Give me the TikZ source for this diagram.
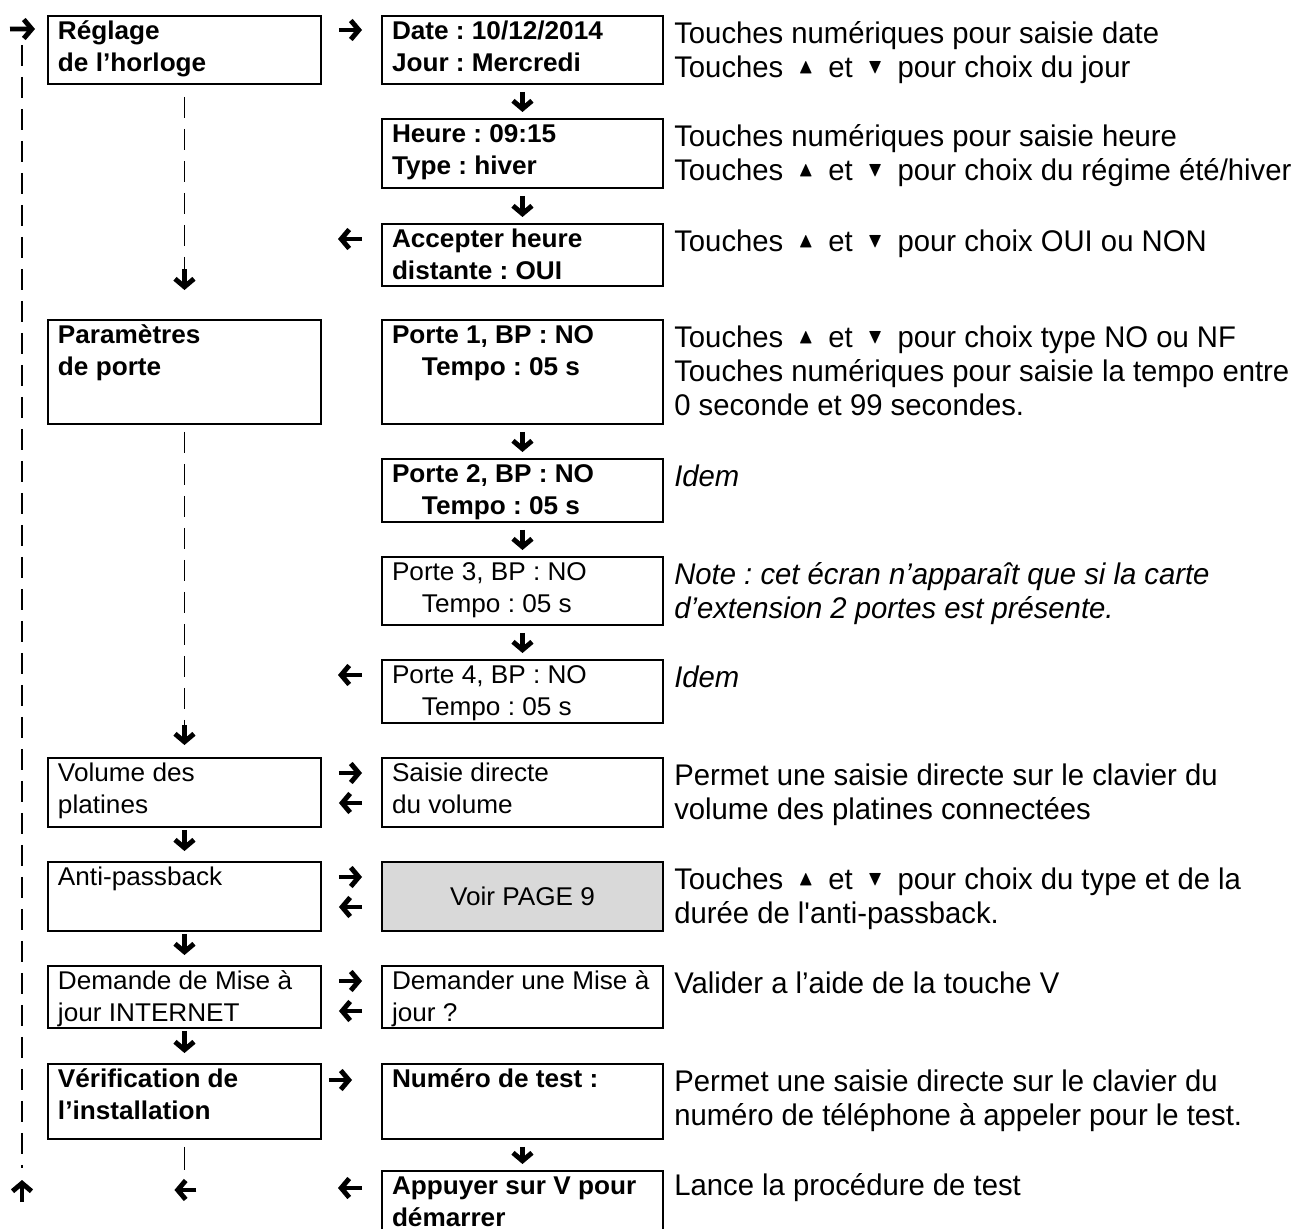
\documentclass[tikz,border=0pt]{standalone}
\usepackage{amsmath,amssymb}
\usepackage{fontspec}
\setmainfont{Liberation Sans}
\newfontfamily\boxfont{Liberation Sans}[FakeStretch=1.02]
\newfontfamily\notefont{Liberation Sans}[FakeStretch=0.98]
\usetikzlibrary{arrows.meta}
% cases a texte cale en haut
\newcommand{\gcase}[2]{\parbox[t][#1][t]{5.06cm}{\strut#2}}
\newcommand{\mcase}[2]{\parbox[t][#1][t]{5.22cm}{\strut#2}}
\newcommand{\flhaut}{\raisebox{0.12em}{$\scriptstyle\blacktriangle$}}
\newcommand{\flbas}{\raisebox{0.12em}{$\scriptstyle\blacktriangledown$}}
\newcommand{\touches}{Touches\enspace\flhaut\enspace et\enspace\flbas\enspace pour}

\begin{document}
\frenchspacing
\begin{tikzpicture}[x=0.02cm, y=-0.02cm,
  boite/.style={draw, line width=0.04cm, anchor=north west, inner xsep=0.2cm, inner ysep=0.03cm,
    font=\boxfont\fontsize{14.6pt}{18.2pt}\selectfont},
  note/.style={anchor=north west, inner sep=0pt, align=left,
    font=\notefont\fontsize{17pt}{19.35pt}\selectfont},
  fleche/.style={line width=2.8pt, -{Straight Barb[length=0.16cm,width=0.38cm]}},
  pointille/.style={line width=1pt, dash pattern=on 0.42cm off 0.22cm}]
\useasboundingbox (0,0) rectangle (1297,1229);
% Colonne de gauche
\node[boite] (reglage) at (47,15) {\gcase{1.30cm}{\bfseries Réglage\\de l’horloge}};
\node[boite] (param) at (47,319) {\gcase{2.02cm}{\bfseries Paramètres\\de porte}};
\node[boite] (volume) at (47,757) {\gcase{1.32cm}{Volume des\\platines}};
\node[boite] (anti) at (47,861) {\gcase{1.32cm}{Anti-passback}};
\node[boite] (demande) at (47,965) {\gcase{1.18cm}{Demande de Mise à\\jour INTERNET}};
\node[boite] (verif) at (47,1063) {\gcase{1.44cm}{\bfseries Vérification de\\l’installation}};
% Colonne du milieu
\node[boite] (date) at (381,15) {\mcase{1.30cm}{\bfseries Date : 10/12/2014\\Jour : Mercredi}};
\node[boite] (heure) at (381,118) {\mcase{1.32cm}{\bfseries Heure : 09:15\\Type : hiver}};
\node[boite] (accepter) at (381,223) {\mcase{1.18cm}{\bfseries Accepter heure\\distante : OUI}};
\node[boite] (porte1) at (381,319) {\mcase{2.02cm}{\bfseries Porte 1, BP : NO\\\hspace*{0.6cm}Tempo : 05 s}};
\node[boite] (porte2) at (381,458) {\mcase{1.20cm}{\bfseries Porte 2, BP : NO\\\hspace*{0.6cm}Tempo : 05 s}};
\node[boite] (porte3) at (381,556) {\mcase{1.30cm}{Porte 3, BP : NO\\\hspace*{0.6cm}Tempo : 05 s}};
\node[boite] (porte4) at (381,659) {\mcase{1.20cm}{Porte 4, BP : NO\\\hspace*{0.6cm}Tempo : 05 s}};
\node[boite] (saisie) at (381,757) {\mcase{1.32cm}{Saisie directe\\du volume}};
\node[boite, fill=gray!30, minimum width=5.62cm, minimum height=1.38cm] (voir) at (381,861) {Voir PAGE 9};
\node[boite] (demander) at (381,965) {\mcase{1.18cm}{Demander une Mise à\\jour ?}};
\node[boite] (numero) at (381,1063) {\mcase{1.44cm}{\bfseries Numéro de test :}};
\node[boite] (appuyer) at (381,1170) {\mcase{1.40cm}{\bfseries Appuyer sur V pour\\démarrer}};
% Commentaires a droite
\node[note] (ndate) at ([xshift=0.2cm,yshift=-0.08cm]date.north east) {\strut Touches numériques pour saisie date\\\touches{} choix du jour};
\node[note] (nheure) at ([xshift=0.2cm,yshift=-0.08cm]heure.north east) {\strut Touches numériques pour saisie heure\\\touches{} choix du régime été/hiver};
\node[note] (naccepter) at ([xshift=0.2cm,yshift=-0.08cm]accepter.north east) {\strut\touches{} choix OUI ou NON};
\node[note] (nporte1) at ([xshift=0.2cm,yshift=-0.08cm]porte1.north east) {\strut\touches{} choix type NO ou NF\\Touches numériques pour saisie la tempo entre\\0 seconde et 99 secondes.};
\node[note] (nporte2) at ([xshift=0.2cm,yshift=-0.08cm]porte2.north east) {\strut\textit{Idem}};
\node[note] (nporte3) at ([xshift=0.2cm,yshift=-0.08cm]porte3.north east) {\strut\textit{Note : cet écran n’apparaît que si la carte}\\\textit{d’extension 2 portes est présente.}};
\node[note] (nporte4) at ([xshift=0.2cm,yshift=-0.08cm]porte4.north east) {\strut\textit{Idem}};
\node[note] (nsaisie) at ([xshift=0.2cm,yshift=-0.08cm]saisie.north east) {\strut Permet une saisie directe sur le clavier du\\volume des platines connectées};
\node[note] (nvoir) at ([xshift=0.2cm,yshift=-0.08cm]voir.north east) {\strut\touches{} choix du type et de la\\durée de l\textquotesingle anti-passback.};
\node[note] (ndemander) at ([xshift=0.2cm,yshift=-0.08cm]demander.north east) {\strut Valider a l’aide de la touche V};
\node[note] (nnumero) at ([xshift=0.2cm,yshift=-0.08cm]numero.north east) {\strut Permet une saisie directe sur le clavier du\\numéro de téléphone à appeler pour le test.};
\node[note] (nappuyer) at ([xshift=0.2cm,yshift=-0.02cm]appuyer.north east) {\strut Lance la procédure de test};
% Fleches verticales
\foreach \a/\b in {date/heure, heure/accepter, porte1/porte2, porte2/porte3, porte3/porte4, numero/appuyer}
    \draw[fleche] ([yshift=-0.14cm]\a.south) -- ([yshift=0.12cm]\b.north);
\foreach \a/\b in {volume/anti, anti/demande, demande/verif}
    \draw[fleche] ([yshift=-0.04cm]\a.south) -- ([yshift=0.2cm]\b.north);
% Fleches horizontales
\draw[fleche] ([xshift=0.34cm,yshift=-0.3cm]reglage.north east) -- ([xshift=-0.38cm,yshift=-0.3cm]date.north west);
\foreach \g/\m in {volume/saisie, anti/voir, demande/demander} {
    \draw[fleche] ([xshift=0.34cm,yshift=-0.32cm]\g.north east) -- ([xshift=-0.38cm,yshift=-0.32cm]\m.north west);
    \draw[fleche] ([xshift=-0.38cm,yshift=-0.92cm]\m.north west) -- ([xshift=0.34cm,yshift=-0.92cm]\g.north east);
}
\draw[fleche] ([xshift=0.14cm,yshift=-0.34cm]verif.north east) -- ([xshift=-0.58cm,yshift=-0.34cm]numero.north west);
\foreach \m in {accepter, porte4}
    \draw[fleche] ([xshift=-0.38cm,yshift=-0.32cm]\m.north west) -- ++(-0.48cm,0);
\draw[fleche] ([xshift=-0.38cm,yshift=-0.36cm]appuyer.north west) -- ++(-0.48cm,0);
% Traits pointilles
\draw[pointille] ([yshift=-0.24cm]reglage.south) -- ([yshift=1.0cm]param.north);
\draw[fleche] ([yshift=1.0cm]param.north) -- ([yshift=0.58cm]param.north);
\draw[pointille] ([yshift=-0.14cm]param.south) -- ([yshift=0.64cm]volume.north);
\draw[fleche] ([yshift=0.64cm]volume.north) -- ([yshift=0.24cm]volume.north);
\draw[line width=1pt] ([yshift=-0.14cm]verif.south) -- ([yshift=-0.6cm]verif.south);
\draw[fleche] ([xshift=0.24cm,yshift=-1.0cm]verif.south) -- ++(-0.44cm,0);
% Retour au debut
\coordinate (entree) at (10,29);
\coordinate (hautg) at (22,45);
\coordinate (basg) at (22,1168);
\coordinate (retour) at (22,1202);
\draw[fleche] (entree) -- ([xshift=-0.24cm,yshift=-0.28cm]reglage.north west);
\draw[pointille] (hautg) -- (basg);
\draw[fleche] (retour) -- ++(0,0.44cm);
\end{tikzpicture}
\end{document}
